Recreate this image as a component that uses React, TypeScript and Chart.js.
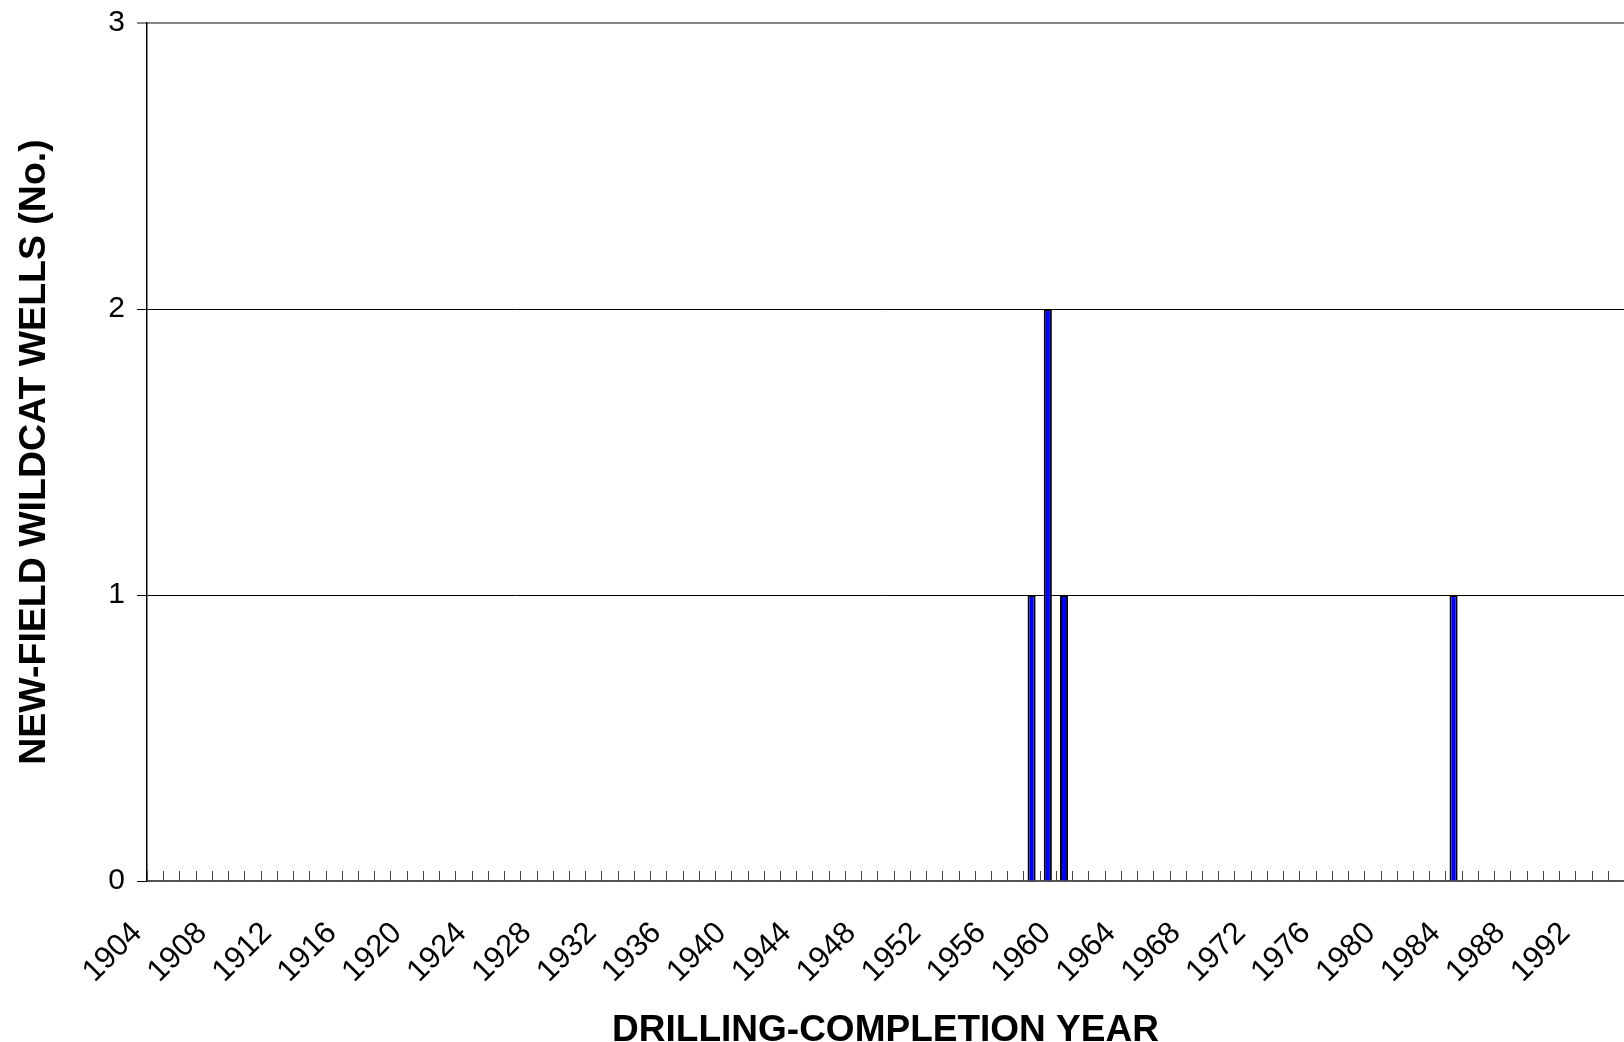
import React, { useEffect, useRef } from "react";
import { Chart, registerables } from "chart.js";

Chart.register(...registerables);

const years: string[] = [
  "1904","1905","1906","1907","1908","1909","1910","1911","1912","1913",
  "1914","1915","1916","1917","1918","1919","1920","1921","1922","1923",
  "1924","1925","1926","1927","1928","1929","1930","1931","1932","1933",
  "1934","1935","1936","1937","1938","1939","1940","1941","1942","1943",
  "1944","1945","1946","1947","1948","1949","1950","1951","1952","1953",
  "1954","1955","1956","1957","1958","1959","1960","1961","1962","1963",
  "1964","1965","1966","1967","1968","1969","1970","1971","1972","1973",
  "1974","1975","1976","1977","1978","1979","1980","1981","1982","1983",
  "1984","1985","1986","1987","1988","1989","1990","1991","1992","1993",
  "1994",
];

const wells: number[] = [
  0,0,0,0,0,0,0,0,0,0,
  0,0,0,0,0,0,0,0,0,0,
  0,0,0,0,0,0,0,0,0,0,
  0,0,0,0,0,0,0,0,0,0,
  0,0,0,0,0,0,0,0,0,0,
  0,0,0,0,1,2,1,0,0,0,
  0,0,0,0,0,0,0,0,0,0,
  0,0,0,0,0,0,0,0,0,0,
  1,0,0,0,0,0,0,0,0,0,
  0,
];

const xTickLabels: string[] = [
  "1904","1908","1912","1916","1920","1924","1928","1932","1936","1940",
  "1944","1948","1952","1956","1960","1964","1968","1972","1976","1980",
  "1984","1988","1992",
];

const yTicks: number[] = [0, 1, 2, 3];

const FONT = "'Liberation Sans', Arial, sans-serif";

const innerTicks = {
  id: "innerTicks",
  beforeDatasetsDraw(chart: any) {
    const xs = chart.scales.x;
    const { ctx, chartArea } = chart;
    const n = chart.data.labels.length;
    ctx.save();
    ctx.strokeStyle = "#444";
    ctx.lineWidth = 1;
    for (let i = 0; i <= n; i++) {
      const px = Math.round(xs.getPixelForValue(i - 0.5)) + 0.5;
      ctx.beginPath();
      ctx.moveTo(px, chartArea.bottom);
      ctx.lineTo(px, chartArea.bottom - 10);
      ctx.stroke();
    }
    ctx.restore();
  },
};

export default function App() {
  const ref = useRef<HTMLCanvasElement | null>(null);
  useEffect(() => {
    if (!ref.current) return;
    const chart = new Chart(ref.current, {
      type: "bar",
      data: {
        labels: years,
        datasets: [
          {
            data: wells,
            backgroundColor: "#0000FF",
            borderColor: "#000000",
            borderWidth: 2,
            barPercentage: 0.5,
            categoryPercentage: 1,
          },
        ],
      },
      options: {
        animation: false,
        responsive: false,
        maintainAspectRatio: false,
        layout: { padding: { top: 23, right: 0, bottom: 0, left: 0 } },
        plugins: {
          legend: { display: false },
          tooltip: { enabled: false },
          title: { display: false },
        },
        scales: {
          x: {
            type: "category",
            offset: true,
            grid: { display: false, drawTicks: false },
            border: { display: true, color: "#555", width: 2 },
            ticks: {
              autoSkip: false,
              minRotation: 45,
              maxRotation: 45,
              padding: 34,
              labelOffset: -18,
              color: "#000",
              font: { family: FONT, size: 31 },
              callback: (_v: any, i: number) =>
                xTickLabels.includes(years[i]) ? years[i] : "",
            },
            title: {
              display: true,
              text: "DRILLING-COMPLETION YEAR",
              color: "#000",
              font: { family: FONT, size: 37, weight: "bold" },
              padding: { top: 0, bottom: -11 },
            },
            afterFit: (s: any) => {
              s.height = 161;
              s.paddingLeft = 0;
              s.paddingRight = 0;
            },
          } as any,
          y: {
            min: 0,
            max: 3,
            afterBuildTicks: (s: any) => {
              s.ticks = yTicks.map((v) => ({ value: v }));
            },
            grid: {
              color: (c: any) => (c.tick && c.tick.value === 3 ? "#888" : "#000"),
              lineWidth: (c: any) => (c.tick && c.tick.value === 3 ? 2 : 1),
              drawTicks: true,
              tickLength: 10,
            },
            border: { display: true, color: "#000", width: 1.5 },
            ticks: {
              padding: 12,
              color: "#000",
              font: { family: FONT, size: 30 },
            },
            title: {
              display: true,
              text: "NEW-FIELD WILDCAT WELLS (No.)",
              color: "#000",
              font: { family: FONT, size: 37.5, weight: "bold" },
              padding: { top: 12, bottom: 0 },
            },
            afterFit: (s: any) => {
              s.width = 147;
              s.paddingTop = 0;
              s.paddingBottom = 0;
            },
          } as any,
        },
      },
      plugins: [innerTicks],
    });
    return () => chart.destroy();
  }, []);
  return (
    <div style={{ position: "absolute", left: 0, top: 0, width: 1624, height: 1042, background: "#fff" }}>
      <canvas ref={ref} width={1624} height={1042} style={{ display: "block" }} />
    </div>
  );
}
